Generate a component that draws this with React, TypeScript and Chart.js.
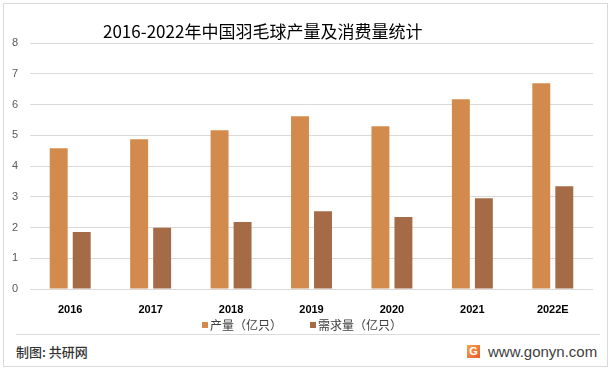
import React, { useEffect, useRef } from "react";
import { Chart, registerables } from "chart.js";

Chart.register(...registerables);

const categories = ["2016", "2017", "2018", "2019", "2020", "2021", "2022E"];
const production = [4.58, 4.87, 5.16, 5.62, 5.29, 6.17, 6.69];
const demand = [1.85, 1.99, 2.18, 2.53, 2.34, 2.95, 3.34];
const seriesNames = ["产量（亿只）", "需求量（亿只）"];
const seriesColors = ["#D38B4D", "#A56B46"];
const yTicks = [0, 1, 2, 3, 4, 5, 6, 7, 8];
const titleText = "2016-2022年中国羽毛球产量及消费量统计";

export default function App() {
  const ref = useRef<HTMLCanvasElement>(null);

  useEffect(() => {
    if (!ref.current) return;
    const chart = new Chart(ref.current, {
      type: "bar",
      data: {
        labels: categories,
        datasets: [
          {
            label: seriesNames[0],
            data: production,
            backgroundColor: seriesColors[0],
            categoryPercentage: 0.572,
            barPercentage: 0.78,
          },
          {
            label: seriesNames[1],
            data: demand,
            backgroundColor: seriesColors[1],
            categoryPercentage: 0.572,
            barPercentage: 0.78,
          },
        ],
      },
      options: {
        animation: false,
        responsive: false,
        maintainAspectRatio: false,
        layout: { padding: { top: 43, right: 18, left: 0, bottom: 0 } },
        plugins: {
          title: { display: false },
          tooltip: { enabled: false },
          legend: { display: false },
        },
        scales: {
          x: {
            afterFit: (s: any) => {
              s.height = 29;
            },
            grid: { display: false, drawTicks: false },
            border: { display: false },
            ticks: {
              padding: 14,
              color: "#000",
              font: { family: "'Liberation Sans', Arial, sans-serif", size: 11, weight: "bold" },
            },
          },
          y: {
            min: 0,
            max: 8,
            afterFit: (s: any) => {
              s.width = 30;
            },
            afterBuildTicks: (s: any) => {
              s.ticks = yTicks.map((v) => ({ value: v }));
            },
            grid: { color: "#D9D9D9", drawTicks: false, lineWidth: 1 },
            border: { display: false },
            ticks: {
              padding: 12,
              color: "#595959",
              font: { family: "'Liberation Sans', Arial, sans-serif", size: 11 },
            },
          },
        },
      },
    });
    return () => chart.destroy();
  }, []);

  const legendItem = (i: number, left: number) => (
    <div key={i} style={{ position: "absolute", left, top: 316, height: 18, whiteSpace: "nowrap" }}>
      <div style={{ position: "absolute", left: 0, top: 6, width: 6, height: 6, background: seriesColors[i] }} />
      <div
        style={{
          position: "absolute",
          left: 8,
          top: 0,
          fontFamily: "'Noto Sans CJK SC', sans-serif",
          fontSize: 12,
          lineHeight: "18px",
          color: "#404040",
        }}
      >
        {seriesNames[i]}
      </div>
    </div>
  );

  return (
    <div style={{ position: "fixed", left: 0, top: 0, width: 611, height: 370, background: "#fff", overflow: "hidden" }}>
      <div
        style={{
          position: "absolute",
          left: 3,
          top: 3,
          width: 603,
          height: 362,
          border: "1px solid #D9D9D9",
        }}
      />
      <canvas ref={ref} width={611} height={318} style={{ position: "absolute", left: 0, top: 0, width: 611, height: 318 }} />
      <div
        style={{
          position: "absolute",
          left: 103,
          top: 19,
          whiteSpace: "nowrap",
          fontFamily: "'Noto Sans CJK SC', sans-serif",
          fontSize: 17,
          lineHeight: "24px",
          color: "#000",
        }}
      >
        {titleText}
      </div>
      {legendItem(0, 202)}
      {legendItem(1, 310)}
      <div style={{ position: "absolute", left: 16, top: 334, width: 584, height: 1, background: "#D9D9D9" }} />
      <div
        style={{
          position: "absolute",
          left: 16,
          top: 342,
          whiteSpace: "nowrap",
          fontFamily: "'Noto Sans CJK SC', sans-serif",
          fontSize: 13,
          fontWeight: 500,
          lineHeight: "20px",
          color: "#333",
        }}
      >
        制图: 共研网
      </div>
      <div
        style={{
          position: "absolute",
          left: 467,
          top: 345,
          width: 13,
          height: 13,
          background: "linear-gradient(135deg, #F7A34B, #EA5A2B)",
          color: "#fff",
          fontFamily: "'Liberation Sans', Arial, sans-serif",
          fontWeight: "bold",
          fontSize: 11,
          lineHeight: "13px",
          textAlign: "center",
        }}
      >
        G
      </div>
      <div
        style={{
          position: "absolute",
          left: 488,
          top: 342,
          whiteSpace: "nowrap",
          fontFamily: "'Liberation Sans', Arial, sans-serif",
          fontSize: 15,
          lineHeight: "20px",
          color: "#404040",
        }}
      >
        www.gonyn.com
      </div>
    </div>
  );
}
